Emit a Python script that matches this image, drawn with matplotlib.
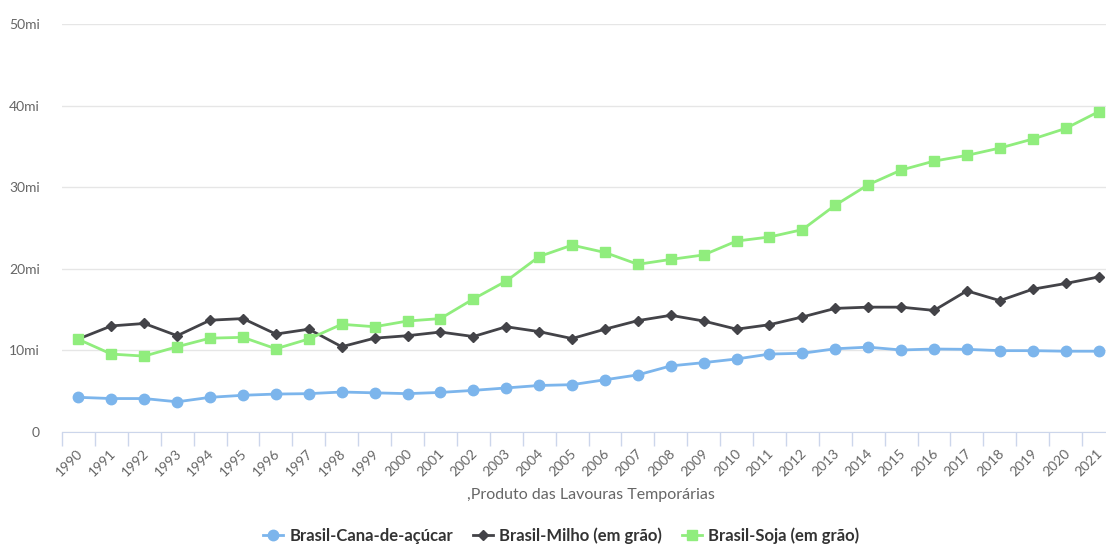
import matplotlib
matplotlib.use("Agg")
import matplotlib.pyplot as plt
from matplotlib.ticker import FixedLocator, FuncFormatter
from matplotlib.transforms import ScaledTranslation

plt.rcParams['font.family'] = ['Lato', 'DejaVu Sans']

# Dados (milhões de toneladas)
anos = [str(a) for a in range(1990, 2022)]
cana = [4.25, 4.1, 4.1, 3.7, 4.25, 4.5, 4.65, 4.7, 4.9, 4.8, 4.7, 4.85,
        5.1, 5.4, 5.7, 5.8, 6.4, 7.0, 8.1, 8.5, 8.95, 9.55, 9.65, 10.2,
        10.4, 10.05, 10.17, 10.13, 9.97, 9.97, 9.9, 9.9]
milho = [11.4, 13.0, 13.3, 11.8, 13.7, 13.9, 12.0, 12.6, 10.45, 11.5, 11.8, 12.25,
         11.7, 12.9, 12.3, 11.45, 12.6, 13.65, 14.3, 13.6, 12.6, 13.15, 14.1, 15.15,
         15.3, 15.3, 14.9, 17.3, 16.1, 17.5, 18.2, 19.0]
soja = [11.35, 9.55, 9.3, 10.45, 11.5, 11.6, 10.2, 11.4, 13.2, 12.9, 13.6, 13.9,
        16.3, 18.5, 21.5, 22.9, 22.0, 20.55, 21.15, 21.7, 23.4, 23.9, 24.8, 27.8,
        30.3, 32.1, 33.2, 33.9, 34.8, 35.9, 37.2, 39.25]

series = [
    ("Brasil-Cana-de-açúcar", cana, "#7cb5ec", "o", 7.5),
    ("Brasil-Milho (em grão)", milho, "#434348", "D", 5.5),
    ("Brasil-Soja (em grão)", soja, "#90ed7d", "s", 7.5),
]

fig = plt.figure(figsize=(11.06, 5.46), dpi=100)
ax = fig.add_axes([62 / 1106, 114 / 546, 1053 / 1106, 408 / 546])

x = list(range(len(anos)))
for nome, vals, cor, mk, ms in series:
    ax.plot(x, vals, color=cor, lw=2, marker=mk, ms=ms, mec=cor, mfc=cor,
            label=nome, zorder=3)

ax.set_xlim(-0.5, len(anos) - 0.5)
ax.set_ylim(0, 50)

# eixo y
ax.set_yticks([0, 10, 20, 30, 40, 50])
ax.yaxis.set_major_formatter(FuncFormatter(lambda v, p: "0" if v == 0 else f"{int(v)}mi"))
ax.tick_params(axis='y', length=0, pad=16, labelsize=10, labelcolor="#666666")
ax.grid(axis='y', color="#e6e6e6", lw=1, zorder=0)

# eixo x: traços nas bordas das categorias, rótulos no centro
ax.xaxis.set_major_locator(FixedLocator([i - 0.5 for i in range(len(anos) + 1)]))
ax.xaxis.set_major_formatter(FuncFormatter(lambda v, p: ""))
ax.xaxis.set_minor_locator(FixedLocator(x))
ax.set_xticklabels(anos, minor=True)
ax.tick_params(axis='x', which='major', length=10, color="#ccd6eb", width=1)
ax.tick_params(axis='x', which='minor', length=0, pad=11, labelsize=10,
               labelcolor="#666666")
desloc = ScaledTranslation(-2 / 100, 0, fig.dpi_scale_trans)
for lab in ax.get_xticklabels(minor=True):
    lab.set_rotation(45)
    lab.set_ha('right')
    lab.set_va('top')
    lab.set_rotation_mode('anchor')
    lab.set_transform(lab.get_transform() + desloc)

for s in ['top', 'right', 'left']:
    ax.spines[s].set_visible(False)
ax.spines['bottom'].set_color("#ccd6eb")

ax.set_xlabel(",Produto das Lavouras Temporárias", fontsize=11.5, color="#666666",
              va='center')
ax.xaxis.set_label_coords((591 - 62) / 1053, -63 / 408)

fig.legend(loc='center', bbox_to_anchor=(561 / 1106, 10 / 546), ncol=3, frameon=False,
           prop={'weight': 'bold', 'size': 12}, handlelength=1.2,
           columnspacing=1.2, handletextpad=0.35, labelcolor="#333333")

fig.savefig("out.png", dpi=100)
